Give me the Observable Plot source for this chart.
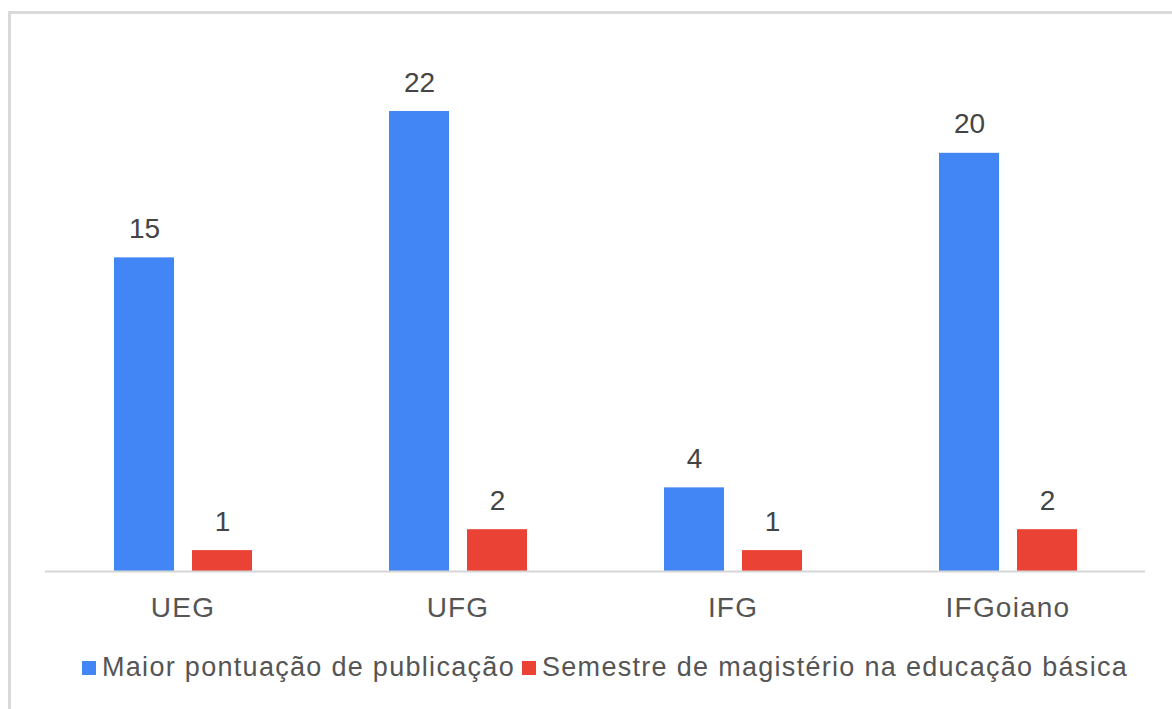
<!DOCTYPE html>
<html>
<head>
<meta charset="utf-8">
<script src="https://cdn.jsdelivr.net/npm/d3@7"></script>
<script src="https://cdn.jsdelivr.net/npm/@observablehq/plot@0.6"></script>
<style>
  html, body { margin: 0; padding: 0; background: #fff; }
  body { width: 1172px; height: 709px; position: relative; overflow: hidden; font-family: "Liberation Sans", Arial, sans-serif; }
  #frame { position: absolute; left: 8px; top: 11px; width: 1200px; height: 720px; border-top: 3px solid #dadada; border-left: 3px solid #dadada; }
  #chart { position: absolute; left: 0; top: 0; }
  #legend { position: absolute; left: 82px; top: 652px; display: flex; align-items: center; font-size: 27px; color: #555; letter-spacing: 1.3px; white-space: nowrap; }
  .sw { display: inline-block; width: 14px; height: 14px; margin-right: 6px; }
  .item { display: flex; align-items: center; margin-right: 7px; }
</style>
</head>
<body>
<div id="frame"></div>
<div id="chart"></div>
<div id="legend"></div>
<script>
const categories = ["UEG", "UFG", "IFG", "IFGoiano"];
const seriesNames = ["Maior pontuação de publicação", "Semestre de magistério na educação básica"];
const publicacao = [15, 22, 4, 20];
const magisterio = [1, 2, 1, 2];
const colors = ["#4285F4", "#EA4335"];

const data = [];
categories.forEach((c, i) => {
  data.push({cat: c, series: seriesNames[0], value: publicacao[i]});
  data.push({cat: c, series: seriesNames[1], value: magisterio[i]});
});

const chart = Plot.plot({
  width: 1172,
  height: 640,
  marginLeft: 44,
  marginRight: 27,
  marginTop: 111,
  marginBottom: 69,
  style: {fontFamily: "'Liberation Sans', Arial, sans-serif", background: "transparent", overflow: "visible"},
  fx: {domain: categories, padding: 0, label: null, axis: "bottom", tickSize: 0, tickPadding: 26},
  x: {domain: seriesNames, paddingInner: 0.2308, paddingOuter: 0.878, axis: null},
  y: {domain: [0, 22], axis: null, nice: false},
  color: {domain: seriesNames, range: colors},
  marks: [
    Plot.barY(data, {fx: "cat", x: "series", y: "value", fill: "series"}),
    Plot.ruleY([0], {stroke: "#d6d6d6", strokeWidth: 2}),
    Plot.text(data, {fx: "cat", x: "series", y: "value", text: d => String(d.value), lineAnchor: "bottom", dy: -20, fontSize: 28, fill: "#444"}),
  ]
});
const axg = chart.querySelector('[aria-label="fx-axis tick label"]');
if (axg) {
  axg.setAttribute("font-size", "28");
  axg.setAttribute("fill", "#555");
  axg.style.letterSpacing = "1.2px";
}
document.getElementById("chart").appendChild(chart);

const legend = document.getElementById("legend");
seriesNames.forEach((s, i) => {
  const item = document.createElement("span");
  item.className = "item";
  const sw = document.createElement("span");
  sw.className = "sw";
  sw.style.background = colors[i];
  item.appendChild(sw);
  item.appendChild(document.createTextNode(s));
  legend.appendChild(item);
});
</script>
</body>
</html>
